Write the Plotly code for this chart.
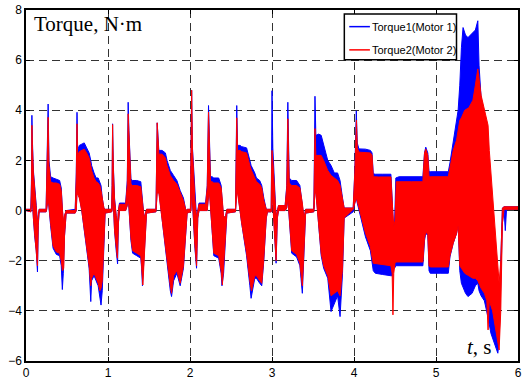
import plotly.graph_objects as go

# ---- Motor 1 (blue): envelope of the oscillating torque ----
time_m1 = [0.00, 0.06, 0.068, 0.072, 0.078, 0.09, 0.105, 0.125, 0.14, 0.15, 0.16, 0.245,
           0.25, 0.27, 0.28, 0.30, 0.33, 0.37, 0.41, 0.43, 0.443, 0.455, 0.47, 0.49, 0.60,
           0.613, 0.622, 0.63, 0.65, 0.68, 0.71, 0.74, 0.77, 0.79, 0.80, 0.83, 0.855, 0.88, 0.915, 0.93, 0.95, 0.965, 1.045,
           1.05, 1.056, 1.065, 1.08, 1.10, 1.117, 1.127, 1.14, 1.20, 1.215, 1.235,
           1.246, 1.255, 1.265, 1.28, 1.30, 1.35, 1.40, 1.41, 1.42, 1.44, 1.47, 1.585,
           1.59, 1.60, 1.62, 1.66, 1.70, 1.72, 1.76, 1.775, 1.80, 1.84, 1.88, 1.92, 1.95, 1.965, 2.005,
           2.012, 2.02, 2.03, 2.045, 2.06, 2.08, 2.095, 2.11, 2.19, 2.21,
           2.226, 2.235, 2.25, 2.27, 2.29, 2.35, 2.38, 2.39, 2.41, 2.435, 2.45, 2.555,
           2.562, 2.57, 2.58, 2.61, 2.63, 2.69, 2.73, 2.745, 2.79, 2.81, 2.85, 2.875, 2.90, 2.93, 2.945, 2.99,
           2.995, 3.00, 3.01, 3.03, 3.05, 3.065, 3.08, 3.16, 3.18,
           3.193, 3.20, 3.21, 3.24, 3.30, 3.34, 3.37, 3.39, 3.41, 3.51,
           3.515, 3.524, 3.535, 3.57, 3.60, 3.63, 3.68, 3.72, 3.76, 3.80, 3.83, 3.86, 3.88, 3.99,
           4.01, 4.028, 4.04, 4.06, 4.10, 4.14, 4.20, 4.22, 4.235, 4.26, 4.35, 4.45, 4.465, 4.48, 4.495,
           4.51, 4.55, 4.70, 4.84, 4.86, 4.875, 4.90, 4.915, 4.93, 5.05, 5.15, 5.17, 5.21, 5.25, 5.27,
           5.29, 5.31, 5.33, 5.36, 5.39, 5.44, 5.48, 5.51, 5.525, 5.55, 5.59, 5.63, 5.67, 5.71, 5.754,
           5.77, 5.79, 5.81, 5.83, 5.845, 5.86, 6.00]
upper_m1 = [0.05, 0.05, 1.5, 3.8, 2.8, 1.6, 0.8, 0.2, -0.5, -0.1, 0.05, 0.05,
            1.3, 4.25, 2.0, 1.35, 1.3, 1.25, 1.2, 0.9, 0.0, -0.6, -0.2, 0.0, 0.05,
            1.5, 3.92, 2.4, 2.6, 2.65, 2.7, 2.5, 2.3, 2.0, 1.8, 1.5, 1.3, 1.3, 1.0, 0.5, 0.1, 0.05, 0.05,
            1.0, 3.46, 1.8, 0.5, -0.2, -0.6, 0.0, 0.3, 0.3, 0.3, 1.2,
            4.32, 3.2, 2.1, 1.25, 1.2, 1.2, 1.15, 0.8, 0.2, -0.3, 0.05, 0.05,
            1.2, 3.5, 2.4, 2.4, 2.3, 2.0, 1.6, 1.5, 1.4, 1.2, 0.8, 0.5, 0.0, 0.05, 0.05,
            2.0, 4.8, 2.5, 1.5, 0.5, -0.3, 0.0, 0.3, 0.3, 1.0,
            4.19, 2.5, 1.35, 1.35, 1.3, 1.3, 1.0, 0.5, -0.3, -0.2, 0.05, 0.05,
            1.5, 4.19, 2.6, 2.6, 2.55, 2.5, 2.0, 1.8, 1.5, 1.3, 1.2, 1.0, 0.5, 0.05, 0.05, 0.05,
            2.0, 4.78, 2.5, 0.8, -0.3, 0.0, 0.2, 0.2, 1.0,
            4.32, 2.5, 1.3, 1.2, 1.2, 1.0, 0.3, -0.3, 0.05, 0.05,
            1.5, 4.56, 3.0, 3.05, 3.0, 2.6, 2.0, 1.8, 1.5, 1.5, 1.2, 0.5, 0.1, 0.1,
            1.6, 3.98, 2.7, 2.46, 2.45, 2.45, 2.4, 2.3, 1.47, 1.45, 1.45, 1.45, 0.5, -0.65, -0.5,
            1.3, 1.35, 1.35, 1.35, 2.3, 2.53, 2.3, 1.55, 1.55, 1.55, 1.55, 1.9, 2.8, 3.5, 4.0,
            5.0, 6.5, 7.3, 7.0, 6.9, 7.05, 7.2, 7.57, 5.8, 4.5, 3.7, 3.0, 0.5, -1.0, -3.0,
            -4.5, -2.0, 0.1, 0.15, 0.15, 0.15, 0.15]
lower_m1 = [0.0, -0.05, 0.3, 1.0, 0.3, -0.4, -1.0, -1.6, -2.45, -0.6, -0.05, -0.05,
            0.0, 0.5, 0.3, -0.6, -1.5, -1.75, -1.8, -2.2, -3.15, -2.5, -1.0, -0.1, -0.1,
            0.0, 0.8, 0.8, 0.6, 0.0, -0.8, -1.5, -2.3, -3.63, -2.8, -2.6, -2.8, -3.0, -3.77, -3.2, -1.5, -0.1, -0.05,
            0.0, 0.8, 0.3, -0.8, -1.6, -2.13, -0.5, 0.0, 0.05, 0.0, 0.2,
            0.6, 0.4, -0.4, -1.2, -1.7, -1.8, -1.9, -2.3, -3.0, -2.0, -0.1, -0.05,
            0.0, 0.8, 0.8, -0.3, -1.4, -2.0, -3.2, -3.43, -2.8, -2.5, -3.0, -2.3, -0.8, -0.1, -0.05,
            0.0, 1.0, 0.5, -0.5, -1.5, -2.3, -0.3, 0.0, 0.0, 0.0,
            0.6, 0.9, 0.3, -0.8, -1.8, -1.9, -2.5, -3.0, -2.5, -1.0, -0.1, -0.05,
            0.0, 0.8, 0.8, 0.0, -0.5, -1.8, -3.0, -3.5, -2.7, -2.7, -2.9, -3.0, -2.0, -0.3, -0.05, -0.05,
            0.0, 1.0, 0.3, -1.0, -2.1, -0.3, 0.0, 0.0, 0.1,
            0.5, 0.5, -0.3, -1.7, -1.85, -2.2, -3.3, -2.0, -0.1, -0.05,
            0.0, 0.8, 0.8, -0.5, -1.8, -2.3, -2.7, -4.03, -3.7, -3.4, -4.23, -2.5, -0.3, -0.05,
            0.3, 0.5, 0.3, 0.0, -0.55, -1.05, -1.6, -2.1, -2.4, -2.5, -2.55, -2.6, -2.6, -2.3, -2.3,
            -2.2, -2.2, -2.2, -2.2, -1.2, -0.9, -1.0, -2.4, -2.5, -2.5, -2.5, -1.85, -1.3, -0.92, -0.53,
            -2.4, -2.9, -3.04, -3.3, -3.43, -3.3, -3.0, -2.9, -3.2, -3.4, -3.6, -4.2, -4.9, -5.3, -5.69,
            -5.2, -3.0, -0.5, 0.05, -0.8, 0.05, 0.05]

# ---- Motor 2 (red) ----
time_m2 = [0.00, 0.06, 0.068, 0.072, 0.078, 0.09, 0.105, 0.125, 0.14, 0.15, 0.16, 0.245,
           0.25, 0.27, 0.28, 0.30, 0.33, 0.37, 0.41, 0.43, 0.445, 0.46, 0.47, 0.49, 0.60,
           0.613, 0.622, 0.63, 0.65, 0.68, 0.71, 0.74, 0.77, 0.79, 0.80, 0.83, 0.855, 0.88, 0.90, 0.915, 0.93, 0.95, 0.965, 1.045,
           1.05, 1.056, 1.065, 1.08, 1.10, 1.115, 1.127, 1.14, 1.215, 1.235,
           1.246, 1.255, 1.265, 1.28, 1.30, 1.35, 1.40, 1.41, 1.425, 1.44, 1.47, 1.585,
           1.59, 1.60, 1.62, 1.66, 1.70, 1.72, 1.76, 1.775, 1.80, 1.84, 1.88, 1.92, 1.95, 1.965, 2.005,
           2.012, 2.02, 2.03, 2.045, 2.06, 2.08, 2.095, 2.11, 2.19, 2.21,
           2.226, 2.235, 2.25, 2.27, 2.29, 2.35, 2.38, 2.395, 2.41, 2.435, 2.45, 2.555,
           2.562, 2.57, 2.58, 2.61, 2.63, 2.69, 2.73, 2.75, 2.79, 2.81, 2.85, 2.875, 2.90, 2.93, 2.945, 2.99,
           2.995, 3.00, 3.01, 3.03, 3.05, 3.065, 3.08, 3.16, 3.18,
           3.193, 3.20, 3.21, 3.24, 3.30, 3.34, 3.37, 3.39, 3.41, 3.51,
           3.515, 3.524, 3.535, 3.57, 3.60, 3.63, 3.68, 3.72, 3.76, 3.80, 3.83, 3.86, 3.88, 3.99,
           4.01, 4.03, 4.04, 4.06, 4.10, 4.14, 4.20, 4.22, 4.235, 4.30, 4.45, 4.465, 4.475, 4.485, 4.50,
           4.515, 4.70, 4.84, 4.86, 4.875, 4.90, 4.915, 4.93, 5.15, 5.17, 5.21, 5.25, 5.27,
           5.29, 5.31, 5.35, 5.40, 5.45, 5.48, 5.51, 5.55, 5.59, 5.62, 5.635, 5.65, 5.69, 5.73, 5.77,
           5.79, 5.81, 5.83, 6.00]
upper_m2 = [0.05, 0.05, 1.2, 3.4, 2.6, 1.5, 0.7, 0.1, -0.5, -0.1, 0.05, 0.05,
            1.2, 3.72, 1.8, 1.15, 1.1, 1.1, 1.05, 0.8, 0.0, -0.5, -0.2, 0.0, 0.0,
            1.3, 3.46, 2.2, 2.35, 2.4, 2.45, 2.3, 2.1, 1.8, 1.6, 1.3, 1.15, 1.1, 1.0, 0.8, 0.4, 0.1, 0.05, 0.05,
            1.0, 3.43, 1.7, 0.4, -0.2, -0.6, 0.0, 0.25, 0.25, 1.0,
            3.86, 2.9, 1.9, 1.05, 1.0, 1.0, 0.95, 0.7, 0.2, -0.3, 0.05, 0.05,
            1.1, 3.5, 2.25, 2.25, 2.1, 1.8, 1.4, 1.3, 1.2, 1.05, 0.7, 0.4, 0.0, 0.05, 0.05,
            2.0, 4.8, 2.4, 1.4, 0.4, -0.3, 0.0, 0.25, 0.25, 0.9,
            3.93, 2.3, 1.15, 1.15, 1.1, 1.1, 0.9, 0.4, -0.3, -0.2, 0.05, 0.05,
            1.4, 3.7, 2.4, 2.4, 2.35, 2.3, 1.8, 1.6, 1.3, 1.15, 1.05, 0.9, 0.4, 0.05, 0.05, 0.05,
            1.5, 2.4, 2.0, 0.7, -0.3, 0.0, 0.2, 0.2, 0.9,
            3.66, 2.3, 1.1, 1.0, 1.0, 0.9, 0.3, -0.3, 0.05, 0.05,
            1.3, 3.27, 2.2, 2.2, 2.2, 2.0, 1.6, 1.4, 1.3, 1.2, 1.0, 0.4, 0.1, 0.1,
            1.5, 3.6, 2.5, 2.33, 2.33, 2.3, 2.3, 2.2, 1.35, 1.34, 1.34, 0.4, -0.5, -0.65, -0.4,
            1.15, 1.15, 1.15, 2.3, 2.45, 2.2, 1.35, 1.35, 1.35, 1.7, 2.4, 2.8, 3.3,
            3.6, 3.7, 4.0, 4.1, 4.4, 5.0, 5.65, 4.6, 4.0, 3.6, 3.4, 2.4, 0.66, -1.2, -2.9,
            -2.0, 0.1, 0.15, 0.15]
lower_m2 = [0.0, -0.05, 0.3, 0.9, 0.3, -0.3, -0.9, -1.5, -2.2, -0.5, -0.05, -0.05,
            0.0, 0.5, 0.3, -0.5, -1.4, -1.65, -1.7, -2.0, -2.4, -2.3, -1.0, -0.1, -0.1,
            0.0, 0.7, 0.7, 0.5, 0.0, -0.7, -1.4, -2.2, -3.0, -2.7, -2.5, -2.7, -2.9, -3.2, -3.1, -2.8, -1.3, -0.1, -0.05,
            0.0, 0.8, 0.3, -0.8, -1.5, -1.9, -0.5, 0.0, 0.0, 0.2,
            0.6, 0.4, -0.4, -1.1, -1.6, -1.7, -1.8, -2.2, -2.97, -1.9, -0.1, -0.05,
            0.0, 0.7, 0.7, -0.3, -1.3, -1.9, -3.0, -3.3, -2.6, -2.4, -2.9, -2.2, -0.7, -0.1, -0.05,
            0.0, 1.0, 0.5, -0.5, -1.4, -2.2, -0.3, 0.0, 0.0, 0.0,
            0.6, 0.8, 0.3, -0.7, -1.7, -1.8, -2.4, -2.97, -2.4, -1.0, -0.1, -0.05,
            0.0, 0.7, 0.7, 0.0, -0.5, -1.7, -2.8, -3.2, -2.6, -2.6, -2.8, -2.9, -1.9, -0.3, -0.05, -0.05,
            0.0, 0.8, 0.3, -1.0, -2.0, -0.3, 0.0, 0.0, 0.1,
            0.5, 0.5, -0.3, -1.6, -1.75, -2.1, -3.0, -1.9, -0.1, -0.05,
            0.0, 0.7, 0.7, -0.5, -1.7, -2.2, -2.6, -3.4, -3.3, -3.2, -3.4, -2.3, -0.3, 0.05,
            0.3, 0.5, 0.3, 0.1, -0.4, -0.9, -1.45, -1.85, -2.1, -2.15, -2.2, -2.5, -4.16, -2.5, -2.1,
            -2.05, -2.05, -2.05, -1.1, -0.85, -0.95, -2.2, -2.25, -2.25, -1.8, -1.3, -0.92, -0.6,
            -2.2, -2.3, -2.5, -2.6, -2.7, -2.7, -2.8, -3.1, -3.3, -3.6, -4.76, -3.6, -4.0, -4.8, -5.56,
            -4.0, -0.5, 0.05, 0.05]

x_ticks = [0, 1, 2, 3, 4, 5, 6]
y_ticks = [-6, -4, -2, 0, 2, 4, 6, 8]
series_names = ["Torque1(Motor 1)", "Torque2(Motor 2)"]
series_colors = ["#0000FF", "#FF0000"]

sans = "Liberation Sans, Arial, sans-serif"
serif = "Liberation Serif, Times New Roman, serif"

fig = go.Figure()
for t, up, lo, col, name in [(time_m1, upper_m1, lower_m1, series_colors[0], series_names[0]),
                             (time_m2, upper_m2, lower_m2, series_colors[1], series_names[1])]:
    fig.add_trace(go.Scatter(
        x=list(t) + list(t[::-1]), y=list(up) + list(lo[::-1]),
        mode="lines", fill="toself", fillcolor=col, name=name,
        line=dict(color=col, width=1), showlegend=False, hoverinfo="skip"))

axis_common = dict(showline=True, linecolor="black", linewidth=1.5, mirror="ticks",
                   ticks="inside", ticklen=4, tickcolor="black", tickwidth=1,
                   showgrid=True, gridcolor="#333333", gridwidth=1, griddash="8px,5px",
                   zeroline=False, tickfont=dict(family=sans, size=12, color="black"))

fig.update_xaxes(range=[0, 6], tickvals=x_ticks, **axis_common)
fig.update_yaxes(range=[-6, 8], tickvals=y_ticks, **axis_common)

# compact MATLAB-style legend box in paper coordinates
leg_x0, leg_x1, leg_y0, leg_y1 = 0.647, 0.875, 0.858, 0.9886
row_y = [0.9526, 0.8864]
shapes = [dict(type="rect", xref="paper", yref="paper", x0=leg_x0, x1=leg_x1, y0=leg_y0, y1=leg_y1,
               line=dict(color="black", width=1.5), fillcolor="white", layer="above")]
annotations = []
for name, col, yy in zip(series_names, series_colors, row_y):
    shapes.append(dict(type="line", xref="paper", yref="paper", x0=leg_x0 + 0.01, x1=leg_x0 + 0.052,
                       y0=yy, y1=yy, line=dict(color=col, width=1.5), layer="above"))
    annotations.append(dict(text=name, xref="paper", yref="paper", x=leg_x0 + 0.052, y=yy,
                            xanchor="left", yanchor="middle", showarrow=False,
                            font=dict(family=sans, size=11, color="black")))

annotations += [
    dict(text="Torque, N·m", xref="paper", yref="paper", x=0.012, y=1.0,
         xanchor="left", yanchor="top", showarrow=False,
         font=dict(family=serif, size=21, color="black")),
    dict(text="<i>t</i>, s", xref="paper", yref="paper", x=0.893, y=0.0,
         xanchor="left", yanchor="bottom", showarrow=False,
         font=dict(family=serif, size=21, color="black")),
]

fig.update_layout(
    width=525, height=383,
    margin=dict(l=26, r=3, t=9, b=22),
    paper_bgcolor="white", plot_bgcolor="white",
    showlegend=False,
    shapes=shapes,
    annotations=annotations,
)

fig.write_html("out.html")
